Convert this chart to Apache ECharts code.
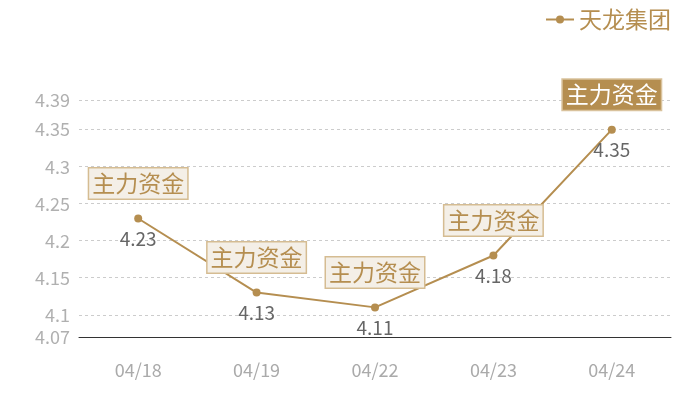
<!DOCTYPE html>
<html>
<head>
<meta charset="utf-8">
<script src="https://cdn.jsdelivr.net/npm/echarts@6/dist/echarts.min.js"></script>
<style>
  html, body { margin: 0; padding: 0; background: #fff; }
  #chart { width: 700px; height: 400px; }
</style>
</head>
<body>
<div id="chart"></div>
<script>
  // 数据
  var dates = ["04/18", "04/19", "04/22", "04/23", "04/24"];
  var prices = [4.23, 4.13, 4.11, 4.18, 4.35];
  var tagText = "主力资金";
  var seriesName = "天龙集团";
  var yMin = 4.07, yMax = 4.39;

  var gold = "#b58e50";
  var fontFam = '"Noto Sans CJK SC", "Noto Sans", sans-serif';

  var myChart = echarts.init(document.getElementById('chart'));

  // 标记框，最后一个高亮
  var marks = [];
  for (var i = 0; i < dates.length; i++) {
    var item = { coord: [dates[i], prices[i]], value: tagText };
    if (i == dates.length - 1) {
      item.label = { backgroundColor: gold, color: "#fff", borderColor: "#d9c29c" };
    }
    marks.push(item);
  }

  var option = {
    textStyle: { fontFamily: fontFam },
    legend: {
      data: [seriesName],
      right: 24,
      top: 3,
      itemWidth: 28,
      itemHeight: 10,
      itemGap: 6,
      textStyle: { color: gold, fontSize: 23, fontFamily: fontFam }
    },
    grid: { left: 79, right: 29, top: 100, bottom: 63 },
    xAxis: {
      type: 'category',
      data: dates,
      boundaryGap: true,
      axisLine: { lineStyle: { color: "#333", width: 1 } },
      axisTick: { show: false },
      axisLabel: { color: "#aaa", fontSize: 18, margin: 24, fontFamily: fontFam }
    },
    yAxis: {
      type: 'value',
      min: yMin,
      max: yMax,
      axisLine: { show: false },
      axisTick: { show: false },
      axisLabel: { color: "#b0b0b0", fontSize: 18, margin: 9, fontFamily: fontFam },
      splitLine: { lineStyle: { color: "#ccc", type: [3, 3] } }
    },
    series: [
      {
        name: seriesName,
        type: 'line',
        data: prices,
        symbol: 'circle',
        symbolSize: 8,
        itemStyle: { color: gold },
        lineStyle: { color: gold, width: 2 },
        label: {
          show: true,
          position: 'bottom',
          distance: 7,
          color: "#666",
          fontSize: 19,
          fontFamily: fontFam
        },
        markPoint: {
          symbol: 'circle',
          symbolSize: 1,
          itemStyle: { color: 'rgba(0,0,0,0)' },
          label: {
            show: true,
            position: 'inside',
            offset: [0, -35],
            formatter: '{c}',
            color: gold,
            fontSize: 23,
            fontFamily: fontFam,
            backgroundColor: "#f4efe7",
            borderColor: "#d5bc92",
            borderWidth: 1.5,
            padding: [4, 3, 3, 3]
          },
          data: marks
        }
      }
    ]
  };
  myChart.setOption(option);
</script>
</body>
</html>
